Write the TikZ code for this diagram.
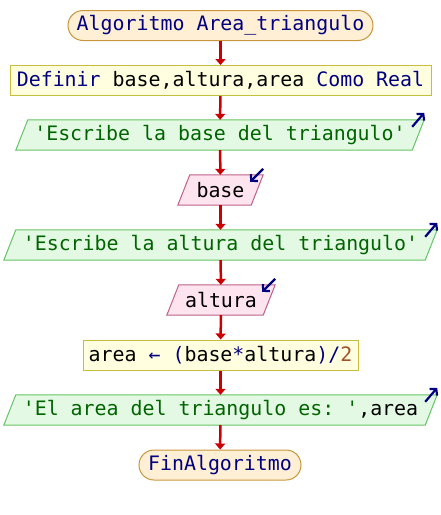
\documentclass[tikz,border=0pt]{standalone}
\usepackage{fontspec}
\setmonofont{DejaVu Sans Mono}
\usetikzlibrary{arrows.meta,backgrounds}

\definecolor{termfill}{HTML}{FFEFD5}
\definecolor{termline}{HTML}{C8963C}
\definecolor{procfill}{HTML}{FFFFE0}
\definecolor{procline}{HTML}{C6BE3C}
\definecolor{outfill}{HTML}{E4F9E4}
\definecolor{outline}{HTML}{66C466}
\definecolor{infill}{HTML}{FDE4EE}
\definecolor{inline}{HTML}{C0608A}
\definecolor{kw}{HTML}{000080}
\definecolor{strgreen}{HTML}{006400}
\definecolor{numbrown}{HTML}{A0522D}
\definecolor{flowred}{HTML}{CC0000}

\tikzset{
  txt/.style={font=\ttfamily\fontsize{19.9}{24}\selectfont, inner sep=0pt,
    minimum height=30pt, anchor=center},
  term/.style={txt, draw=termline, fill=termfill, rounded corners=15pt, line width=1pt},
  proc/.style={txt, draw=procline, fill=procfill, line width=1pt},
  iobox/.style={txt},
  flow/.style={draw=flowred, line width=2.5pt, -{Triangle[length=6pt,width=10pt]}},
  ioarrow/.style={draw=kw, line width=2.2pt, -{Straight Barb[length=4.5pt,width=10pt]}},
  outshape/.style={fill=outfill, draw=outline, line width=1pt},
  inshape/.style={fill=infill, draw=inline, line width=1pt}
}

% slanted box behind a text node (half slant 6pt)
\newcommand{\slantbox}[2]{%
  \path[#2] ([xshift=6pt]#1.north west) -- ([xshift=6pt]#1.north east)
    -- ([xshift=-6pt]#1.south east) -- ([xshift=-6pt]#1.south west) -- cycle;}

\begin{document}
\begin{tikzpicture}[x=1pt,y=-1pt]
  \useasboundingbox (0,0) rectangle (440,515);

  \node[term, minimum width=305pt, text=kw] (start) at (220.5,25.5) {Algoritmo Area\_triangulo};
  \node[proc, minimum width=421pt] (def) at (220.5,80.5)
    {{\color{kw}Definir} base,altura,area {\color{kw}Como Real}};
  \node[iobox, minimum width=396pt, text=strgreen] (out1) at (220,135)
    {'Escribe la base del triangulo'};
  \node[iobox, minimum width=73pt] (inbase) at (220.5,190) {base};
  \node[iobox, minimum width=421pt, text=strgreen] (out2) at (220.5,245)
    {'Escribe la altura del triangulo'};
  \node[iobox, minimum width=96pt] (inalt) at (221,300) {altura};
  \node[proc, minimum width=275pt] (calc) at (220.5,355)
    {area {\color{kw}←} {\color{kw}(}base{\color{kw}*}altura{\color{kw})/}{\color{numbrown}2}};
  \node[iobox, minimum width=421pt] (out3) at (220.5,410)
    {{\color{strgreen}'El area del triangulo es: '},area};
  \node[term, minimum width=162pt, text=kw] (stop) at (220,465) {FinAlgoritmo};

  \begin{scope}[on background layer]
    \slantbox{out1}{outshape}
    \slantbox{inbase}{inshape}
    \slantbox{out2}{outshape}
    \slantbox{inalt}{inshape}
    \slantbox{out3}{outshape}
  \end{scope}

  % flow connectors
  \draw[flow] (start) -- (def);
  \draw[flow] (def) -- (out1);
  \draw[flow] (out1) -- (inbase);
  \draw[flow] (inbase) -- (out2);
  \draw[flow] (out2) -- (inalt);
  \draw[flow] (inalt) -- (calc);
  \draw[flow] (calc) -- (out3);
  \draw[flow] (out3) -- (stop);

  % output / input markers
  \foreach \n in {out1,out2,out3}
    \draw[ioarrow] ([xshift=-6pt,yshift=-7pt]\n.north east) -- ([xshift=6pt,yshift=7pt]\n.north east);
  \foreach \n in {inbase,inalt}
    \draw[ioarrow] ([xshift=6pt,yshift=6pt]\n.north east) -- ([xshift=-7pt,yshift=-7pt]\n.north east);
\end{tikzpicture}
\end{document}
